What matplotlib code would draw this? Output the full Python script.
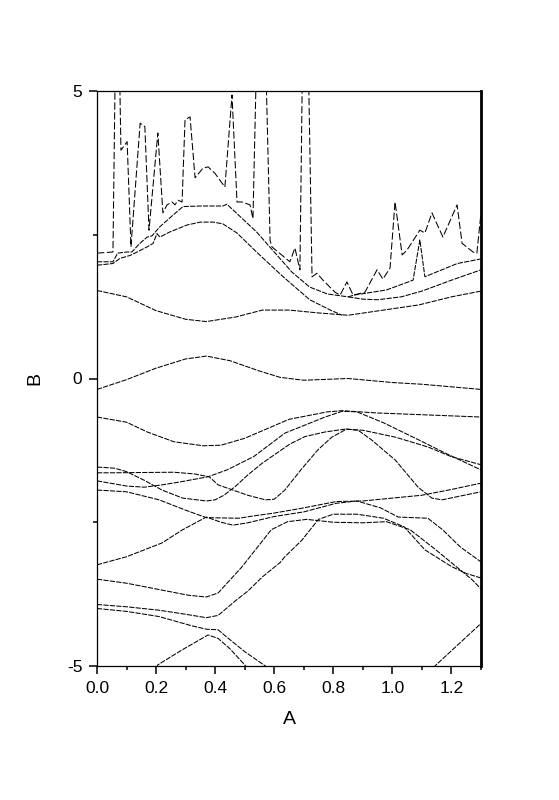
import matplotlib
matplotlib.use("Agg")
import matplotlib.pyplot as plt
from matplotlib.ticker import MultipleLocator

plt.rcParams['font.family'] = ['Liberation Sans', 'DejaVu Sans']
plt.rcParams['axes.unicode_minus'] = False

# ---- data ----
noisy_x = [0, 0.054, 0.068, 0.081, 0.102, 0.115, 0.146, 0.162, 0.176, 0.206, 0.223, 0.237, 0.254, 0.264, 0.274,
           0.288, 0.298, 0.315, 0.332, 0.359, 0.376, 0.399, 0.433, 0.457, 0.474, 0.491, 0.518, 0.528, 0.555, 0.586,
           0.592, 0.653, 0.67, 0.687, 0.704, 0.728, 0.745, 0.765, 0.806, 0.823, 0.846, 0.867, 0.907, 0.948, 0.968,
           0.992, 1.009, 1.033, 1.049, 1.093, 1.11, 1.134, 1.171, 1.219, 1.236, 1.273, 1.286, 1.3]
noisy_y = [2.18, 2.2, 8.0, 3.97, 4.12, 2.29, 4.44, 4.38, 2.58, 4.27, 2.88, 3.02, 3.07, 3.02, 3.1,
           3.07, 4.5, 4.55, 3.49, 3.66, 3.68, 3.57, 3.33, 4.93, 3.07, 3.07, 3.02, 2.78, 9.0, 2.4,
           2.29, 2.03, 2.27, 1.89, 9.0, 1.77, 1.83, 1.71, 1.5, 1.45, 1.68, 1.45, 1.5, 1.89, 1.73,
           1.92, 3.07, 2.15, 2.23, 2.58, 2.53, 2.88, 2.46, 3.02, 2.35, 2.2, 2.18, 2.88]

t1_x = [0, 0.054, 0.07, 0.1, 0.118, 0.145, 0.17, 0.186, 0.213, 0.257, 0.291, 0.35, 0.426, 0.44, 0.54, 0.66, 0.72, 0.78, 0.85]
t1_y = [2.03, 2.03, 2.18, 2.2, 2.2, 2.35, 2.46, 2.48, 2.64, 2.84, 2.99, 3.0, 3.0, 3.03, 2.55, 1.85, 1.59, 1.47, 1.42]

a_x = [0.85, 0.87, 0.98, 1.07, 1.093, 1.11, 1.22, 1.3]
a_y = [1.42, 1.45, 1.54, 1.71, 2.41, 1.77, 2.0, 2.08]

b_x = [0.85, 0.9, 0.95, 1.03, 1.1, 1.2, 1.3]
b_y = [1.42, 1.38, 1.37, 1.42, 1.52, 1.71, 1.89]

t2_x = [0, 0.054, 0.078, 0.112, 0.136, 0.17, 0.19, 0.203, 0.213, 0.247, 0.305, 0.35, 0.393, 0.426, 0.474, 0.54,
        0.63, 0.72, 0.79, 0.83]
t2_y = [1.97, 2.0, 2.09, 2.14, 2.2, 2.29, 2.35, 2.52, 2.46, 2.55, 2.67, 2.72, 2.72, 2.69, 2.53, 2.2,
        1.77, 1.37, 1.19, 1.1]

m1_x = [0, 0.1, 0.2, 0.3, 0.37, 0.47, 0.56, 0.65, 0.75, 0.85, 0.97, 1.09, 1.2, 1.3]
m1_y = [1.53, 1.42, 1.18, 1.03, 0.99, 1.07, 1.19, 1.19, 1.14, 1.1, 1.19, 1.28, 1.42, 1.52]

m2_x = [0, 0.1, 0.2, 0.3, 0.37, 0.45, 0.55, 0.62, 0.7, 0.85, 1.0, 1.1, 1.3]
m2_y = [-0.19, -0.02, 0.18, 0.34, 0.39, 0.31, 0.13, 0.02, -0.03, 0.0, -0.07, -0.1, -0.19]

l1_x = [0, 0.1, 0.17, 0.26, 0.36, 0.42, 0.5, 0.65, 0.72, 0.78, 0.83, 0.95, 1.1, 1.3]
l1_y = [-0.67, -0.76, -0.93, -1.1, -1.17, -1.16, -1.04, -0.71, -0.64, -0.58, -0.56, -0.6, -0.63, -0.67]

g_x = [0, 0.1, 0.16, 0.22, 0.28, 0.375, 0.44, 0.53, 0.636, 0.704, 0.772, 0.83, 0.88, 0.97, 1.09, 1.18, 1.3]
g_y = [-1.78, -1.87, -1.89, -1.85, -1.8, -1.71, -1.59, -1.36, -0.95, -0.81, -0.67, -0.57, -0.58, -0.77, -1.07, -1.3, -1.59]

e_x = [0, 0.06, 0.1, 0.16, 0.22, 0.29, 0.37, 0.4, 0.43, 0.47, 0.51, 0.56, 0.653, 0.704, 0.772, 0.84, 0.9, 1.01,
       1.12, 1.2, 1.3]
e_y = [-1.54, -1.56, -1.62, -1.77, -1.94, -2.08, -2.13, -2.11, -2.03, -1.87, -1.68, -1.47, -1.14, -1.01, -0.93,
       -0.88, -0.9, -1.02, -1.19, -1.36, -1.5]

f_x = [0, 0.05, 0.26, 0.33, 0.38, 0.41, 0.46, 0.51, 0.57, 0.6, 0.636, 0.69, 0.748, 0.795, 0.845, 0.884, 0.93,
       1.01, 1.087, 1.134, 1.168, 1.3]
f_y = [-1.64, -1.64, -1.63, -1.66, -1.71, -1.85, -1.94, -2.03, -2.11, -2.1, -1.94, -1.59, -1.24, -1.02, -0.88,
       -0.9, -1.07, -1.42, -1.89, -2.08, -2.11, -1.97]

h_x = [0, 0.1, 0.21, 0.3, 0.37, 0.48, 0.53, 0.6, 0.7, 0.81, 0.9, 0.96, 1.1, 1.2, 1.3]
h_y = [-1.94, -1.97, -2.11, -2.29, -2.42, -2.43, -2.39, -2.34, -2.25, -2.14, -2.13, -2.1, -2.03, -1.93, -1.82]

i_x = [0, 0.1, 0.22, 0.29, 0.37, 0.42, 0.46, 0.51, 0.6, 0.7, 0.81, 0.88, 0.96, 1.02, 1.12, 1.17, 1.23, 1.3]
i_y = [-3.24, -3.1, -2.86, -2.63, -2.41, -2.5, -2.55, -2.51, -2.4, -2.32, -2.17, -2.13, -2.25, -2.41, -2.43,
       -2.63, -2.93, -3.19]

p_x = [0, 0.1, 0.22, 0.31, 0.37, 0.41, 0.49, 0.59, 0.645, 0.71, 0.8, 0.9, 0.98, 1.06, 1.14, 1.23, 1.27, 1.3]
p_y = [-3.49, -3.56, -3.68, -3.77, -3.8, -3.73, -3.28, -2.63, -2.49, -2.45, -2.5, -2.51, -2.49, -2.63, -2.95,
       -3.33, -3.5, -3.66]

q_x = [0, 0.1, 0.21, 0.3, 0.37, 0.41, 0.47, 0.51, 0.56, 0.62, 0.636, 0.694, 0.72, 0.75, 0.8, 0.88, 0.97, 1.04,
       1.11, 1.2, 1.25, 1.3]
q_y = [-3.93, -3.97, -4.03, -4.1, -4.16, -4.12, -3.86, -3.7, -3.45, -3.2, -3.1, -2.81, -2.64, -2.45, -2.36,
       -2.36, -2.43, -2.58, -2.98, -3.27, -3.39, -3.47]

r_x = [0, 0.1, 0.21, 0.32, 0.37, 0.41, 0.44, 0.5, 0.57, 0.62]
r_y = [-4.0, -4.05, -4.14, -4.3, -4.36, -4.37, -4.5, -4.75, -5.0, -5.3]

s_x = [0.1, 0.206, 0.288, 0.376, 0.41, 0.45, 0.5, 0.6]
s_y = [-5.9, -4.98, -4.72, -4.46, -4.52, -4.7, -4.98, -5.6]

n_x = [1.0, 1.144, 1.222, 1.3]
n_y = [-5.9, -5.0, -4.63, -4.26]

bands = [(noisy_x, noisy_y), (t1_x, t1_y), (a_x, a_y), (b_x, b_y), (t2_x, t2_y), (m1_x, m1_y),
         (m2_x, m2_y), (l1_x, l1_y), (g_x, g_y), (e_x, e_y), (f_x, f_y), (h_x, h_y), (i_x, i_y),
         (p_x, p_y), (q_x, q_y), (r_x, r_y), (s_x, s_y), (n_x, n_y)]

x_ticks = [0.0, 0.2, 0.4, 0.6, 0.8, 1.0, 1.2]
x_ticklabels = ['0.0', '0.2', '0.4', '0.6', '0.8', '1.0', '1.2']
y_ticks = [-5, 0, 5]
y_ticklabels = ['-5', '0', '5']

# ---- figure ----
fig = plt.figure(figsize=(5.59, 8.0), dpi=100)
ax = fig.add_axes([97 / 559, 1 - 666 / 800, (481 - 97) / 559, (666 - 91) / 800])

for i, (bx, by) in enumerate(bands):
    if i == 0:
        ls = (0, (7, 2.5))
    else:
        ls = (0, (5, 1.2))
    ax.plot(bx, by, color='black', lw=0.75, ls=ls)

ax.set_xlim(0, 1.3)
ax.set_ylim(-5, 5)
ax.set_xticks(x_ticks)
ax.set_xticklabels(x_ticklabels)
ax.set_yticks(y_ticks)
ax.set_yticklabels(y_ticklabels)
ax.xaxis.set_minor_locator(MultipleLocator(0.1))
ax.yaxis.set_minor_locator(MultipleLocator(2.5))

ax.tick_params(which='major', direction='out', length=5.5, width=1.1, labelsize=12.5, pad=5)
ax.tick_params(which='minor', direction='out', length=3, width=1.1)
ax.tick_params(top=False, right=False, which='both')

for side in ['left', 'bottom', 'top']:
    ax.spines[side].set_linewidth(0.9)
ax.spines['right'].set_linewidth(2.0)

ax.set_xlabel('A', fontsize=14, labelpad=11)
ax.set_ylabel('B', fontsize=14, labelpad=17)

fig.savefig('out.png', dpi=100)
